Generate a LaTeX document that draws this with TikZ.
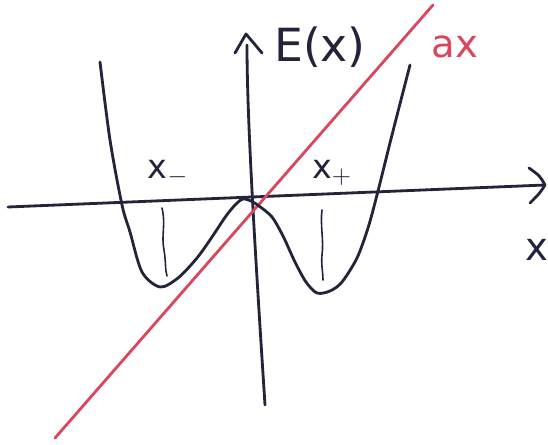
\documentclass[tikz,border=0pt]{standalone}
\usepackage{fontspec}
\setmainfont{DejaVu Sans}
\begin{document}
\begin{tikzpicture}[x=0.02cm,y=-0.02cm,
  ink/.style={draw=inkc,line width=1.6pt,line cap=round,line join=round},
  thin ink/.style={draw=inkc,line width=0.9pt,line cap=round},
  redline/.style={draw=redc,line width=1.6pt,line cap=round},
  lbl/.style={inner sep=0pt,text=inkc}]
\definecolor{inkc}{HTML}{23233A}
\definecolor{redc}{HTML}{D9475C}
\useasboundingbox (0,0) rectangle (548,445);
% axes coordinates
\coordinate (xl) at (8,207);
\coordinate (xr) at (545,185);
\coordinate (yb) at (265,405);
\coordinate (yt) at (246,34);
% horizontal axis
\draw[ink] (xl) -- (xr);
\draw[ink] (529,168) .. controls (540,176) .. (xr) .. controls (540,193) .. (530,203);
% vertical axis
\draw[ink] (yb) .. controls (255,250) and (247,120) .. (247,45);
\draw[ink] (235,53) -- (yt) -- (262,53);
% red line
\coordinate (ra) at (55,438);
\coordinate (rb) at (433,5);
\draw[redline] (ra) -- (rb);
% curve
\draw[ink] plot[smooth,tension=0.5] coordinates {
 (100,62) (110,140) (122,205) (130,232) (142,272) (160,287) (178,278) (197,258)
 (212,237) (226,216) (236,204) (243,199) (251,201) (259,206) (272,217) (283,236) (295,262)
 (306,282) (317,293) (330,291) (342,282) (357,258) (368,228) (377,195)
 (392,135) (410,65)};
% tick marks
\draw[thin ink] (162,208) .. controls (166,225) and (161,235) .. (164,250) .. controls (166,262) and (165,270) .. (167,276);
\draw[thin ink] (322,210) .. controls (320,225) and (324,240) .. (322,255) .. controls (321,265) and (323,272) .. (323,280);
% labels
\node[lbl,font=\fontsize{26}{30}\selectfont] (E) at (320,47) {E(x)};
\node[lbl,text=redc,font=\fontsize{22}{26}\selectfont] (ax) at (455,47) {ax};
\node[lbl,font=\fontsize{19}{22}\selectfont] (xm) at (168,173) {x$_{-}$};
\node[lbl,font=\fontsize{19}{22}\selectfont] (xp) at (332,173) {x$_{+}$};
\node[lbl,font=\fontsize{22}{26}\selectfont] (x) at (537,250) {x};
\end{tikzpicture}
\end{document}
